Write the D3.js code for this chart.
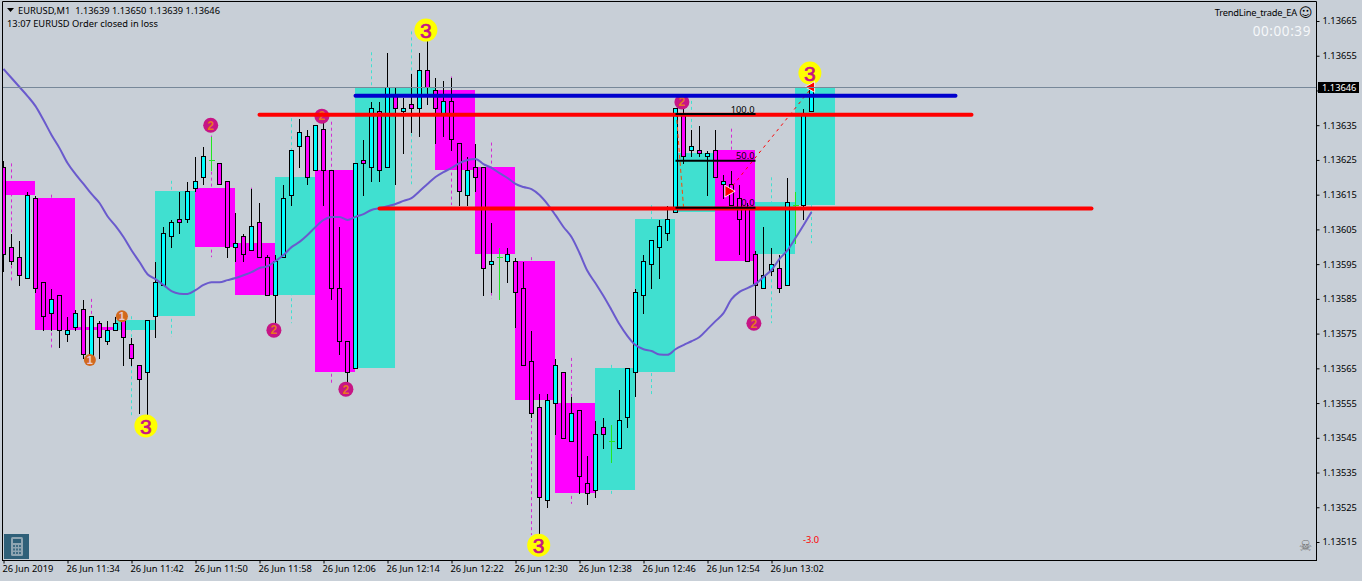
<!DOCTYPE html>
<html>
<head>
<meta charset="utf-8">
<script src="https://cdn.jsdelivr.net/npm/d3@7"></script>
<style>
html,body{margin:0;padding:0;background:#c8cfd7;overflow:hidden}
svg{display:block}
text{font-family:"Noto Sans",sans-serif;font-size:9.3px}
</style>
</head>
<body>
<svg id="chart" width="1362" height="581"></svg>
<script>
const opens=[1.13623,1.13600,1.13597,1.13591,1.13614,1.13590,1.13581,1.13586,1.13575,1.13577,
1.13582,1.13568,1.13578,1.13573,1.13576,1.13579,1.13572,1.13566,1.13564,1.13580,
1.13589,1.13603,1.13608,1.13608,1.13617,1.13620,1.13625,1.13624,1.13619,1.13600,
1.13603,1.13599,1.13607,1.13597,1.13586,1.13597,1.13615,1.13629,1.13632,1.13622,
1.13634,1.13622,1.13588,1.13573,1.13565,1.13625,1.13623,1.13639,1.13623,1.13644,
1.13639,1.13641,1.13640,1.13651,1.13645,1.13638,1.13642,1.13630,1.13615,1.13623,
1.13623,1.13595,1.13597,1.13596,1.13596,1.13588,1.13567,1.13554,1.13527,1.13555,
1.13564,1.13544,1.13553,1.13532,1.13530,1.13548,1.13544,1.13542,1.13551,1.13564,
1.13586,1.13595,1.13600,1.13604,1.13610,1.13638,1.13628,1.13628,1.13626,1.13628,
1.13618,1.13618,1.13614,1.13611,1.13598,1.13588,1.13593,1.13594,1.13589,1.13612,
1.13612,1.13639];
const highs=[1.13625,1.13604,1.13602,1.13616,1.13615,1.13590,1.13588,1.13586,1.13580,1.13582,
1.13585,1.13580,1.13579,1.13579,1.13580,1.13580,1.13574,1.13566,1.13579,1.13596,
1.13606,1.13608,1.13616,1.13619,1.13626,1.13629,1.13632,1.13624,1.13619,1.13610,
1.13604,1.13617,1.13613,1.13598,1.13598,1.13618,1.13628,1.13637,1.13634,1.13635,
1.13636,1.13622,1.13606,1.13573,1.13624,1.13631,1.13642,1.13642,1.13656,1.13646,
1.13643,1.13650,1.13656,1.13662,1.13649,1.13648,1.13649,1.13630,1.13626,1.13630,
1.13623,1.13607,1.13600,1.13600,1.13597,1.13596,1.13576,1.13558,1.13558,1.13568,
1.13564,1.13557,1.13553,1.13540,1.13550,1.13551,1.13549,1.13559,1.13565,1.13588,
1.13598,1.13602,1.13608,1.13612,1.13640,1.13642,1.13634,1.13635,1.13628,1.13634,
1.13621,1.13622,1.13618,1.13613,1.13599,1.13606,1.13600,1.13598,1.13620,1.13616,
1.13640,1.13650];
const lows=[1.13593,1.13595,1.13589,1.13591,1.13587,1.13576,1.13576,1.13571,1.13573,1.13576,
1.13568,1.13567,1.13568,1.13572,1.13576,1.13566,1.13566,1.13552,1.13551,1.13574,
1.13589,1.13600,1.13604,1.13607,1.13616,1.13618,1.13622,1.13618,1.13597,1.13596,
1.13596,1.13599,1.13597,1.13586,1.13578,1.13597,1.13612,1.13623,1.13618,1.13622,
1.13612,1.13585,1.13569,1.13560,1.13565,1.13615,1.13619,1.13619,1.13623,1.13618,
1.13627,1.13633,1.13632,1.13641,1.13630,1.13632,1.13628,1.13612,1.13612,1.13616,
1.13586,1.13587,1.13585,1.13590,1.13577,1.13566,1.13551,1.13517,1.13525,1.13546,
1.13545,1.13544,1.13529,1.13526,1.13528,1.13542,1.13538,1.13542,1.13548,1.13557,
1.13581,1.13588,1.13591,1.13602,1.13610,1.13624,1.13626,1.13626,1.13615,1.13620,
1.13614,1.13612,1.13598,1.13596,1.13578,1.13588,1.13592,1.13587,1.13589,1.13601,
1.13608,1.13639];
const closes=[1.13598,1.13596,1.13592,1.13615,1.13588,1.13580,1.13585,1.13576,1.13576,1.13581,
1.13569,1.13580,1.13574,1.13576,1.13578,1.13574,1.13568,1.13562,1.13579,1.13590,
1.13604,1.13607,1.13607,1.13616,1.13619,1.13626,1.13625,1.13618,1.13600,1.13601,
1.13598,1.13606,1.13597,1.13586,1.13596,1.13614,1.13628,1.13633,1.13620,1.13635,
1.13622,1.13588,1.13573,1.13564,1.13624,1.13624,1.13640,1.13622,1.13646,1.13640,
1.13640,1.13640,1.13651,1.13646,1.13640,1.13642,1.13631,1.13616,1.13622,1.13620,
1.13594,1.13596,1.13597,1.13598,1.13587,1.13566,1.13552,1.13528,1.13556,1.13566,
1.13545,1.13552,1.13534,1.13529,1.13546,1.13546,1.13544,1.13550,1.13565,1.13587,
1.13596,1.13602,1.13606,1.13608,1.13640,1.13626,1.13629,1.13627,1.13627,1.13620,
1.13619,1.13612,1.13608,1.13596,1.13589,1.13592,1.13595,1.13588,1.13613,1.13612,
1.13638,1.13646];
const maLine=[1.136512,1.136486,1.136460,1.136434,1.136405,1.136365,1.136322,1.136284,1.136241,1.136209,
1.136181,1.136152,1.136126,1.136088,1.136060,1.136028,1.135990,1.135956,1.135921,1.135907,
1.135890,1.135872,1.135865,1.135864,1.135875,1.135890,1.135898,1.135898,1.135904,1.135910,
1.135918,1.135927,1.135939,1.135944,1.135959,1.135976,1.135999,1.136014,1.136034,1.136057,
1.136077,1.136086,1.136086,1.136077,1.136086,1.136094,1.136106,1.136111,1.136117,1.136123,
1.136132,1.136140,1.136160,1.136181,1.136201,1.136215,1.136227,1.136241,1.136250,1.136253,
1.136238,1.136227,1.136212,1.136198,1.136181,1.136172,1.136166,1.136149,1.136123,1.136091,
1.136057,1.136028,1.135982,1.135930,1.135895,1.135858,1.135818,1.135777,1.135743,1.135717,
1.135705,1.135700,1.135690,1.135689,1.135705,1.135717,1.135728,1.135740,1.135763,1.135786,
1.135809,1.135849,1.135870,1.135881,1.135893,1.135913,1.135933,1.135965,1.135990,1.136025,
1.136062,1.136100];
const boxStart=[-1,4,9,14,19,24,29,34,39,44,49,54,59,64,69,74,79,84,89,94,99];
const boxOpen=[1.13619,1.13614,1.13577,1.13576,1.13580,1.13617,1.13601,1.13586,1.13622,1.13565,1.13644,1.13645,1.13623,1.13596,1.13555,1.13530,1.13564,1.13610,1.13628,1.13598,1.13612];
const boxHigh=[1.13624,1.13615,1.13585,1.13580,1.13619,1.13632,1.13617,1.13637,1.13636,1.13656,1.13662,1.13649,1.13630,1.13597,1.13568,1.13566,1.13612,1.13642,1.13634,1.13620,1.13650];
const boxLow=[1.13590,1.13571,1.13567,1.13551,1.13574,1.13597,1.13586,1.13578,1.13560,1.13565,1.13618,1.13612,1.13585,1.13517,1.13526,1.13528,1.13557,1.13610,1.13596,1.13578,1.13601];
const boxClose=[1.13615,1.13576,1.13576,1.13579,1.13616,1.13600,1.13586,1.13620,1.13564,1.13646,1.13646,1.13622,1.13598,1.13556,1.13529,1.13565,1.13608,1.13627,1.13596,1.13613,1.13646];
const priceTicks=[1.13665,1.13655,1.13645,1.13635,1.13625,1.13615,1.13605,1.13595,1.13585,1.13575,1.13565,1.13555,1.13545,1.13535,1.13525,1.13515];
const timeTickIdx=[0,8,16,24,32,40,48,56,64,72,80,88,96];
const timeTickLabels=["26 Jun 2019","26 Jun 11:34","26 Jun 11:42","26 Jun 11:50","26 Jun 11:58","26 Jun 12:06","26 Jun 12:14","26 Jun 12:22","26 Jun 12:30","26 Jun 12:38","26 Jun 12:46","26 Jun 12:54","26 Jun 13:02"];
const trendIdxFrom=[44,32,47], trendIdxTo=[119,121,136], trendPrice=[1.136435,1.13638,1.13611], trendColor=["#0000cd","#ff0000","#ff0000"];
const fibLabels=["100.0","50.0","0.0"], fibPrice=[1.136382,1.136248,1.136112];
const marker3Idx=[17.8,52.8,66.9,100.8], marker3Price=[1.135484,1.136624,1.135141,1.1365];
const marker2Idx=[25.9,33.8,39.8,42.8,84.8,93.8], marker2Price=[1.13635,1.13576,1.136376,1.13559,1.136417,1.13578];
const marker1Idx=[10.8,14.8], marker1Price=[1.135674,1.1358];
const bidPrice=1.13646;

const svg=d3.select("#chart");
const x=d3.scaleLinear().domain([0,101]).range([3.5,811.5]);
const y=d3.scaleLinear().domain([1.13515,1.13665]).range([542,21]);
const snap=v=>Math.round(y(v))+0.5;

svg.append("defs").append("clipPath").attr("id","plot").append("rect").attr("x",3).attr("y",2).attr("width",1313).attr("height",558);
const plot=svg.append("g").attr("clip-path","url(#plot)");

// M5 overlay boxes
const boxes=boxStart.map((s,k)=>({s,o:boxOpen[k],h:boxHigh[k],l:boxLow[k],c:boxClose[k]}));
const boxCol=d=>d.c>=d.o?"#40e0d0":"#ff00ff";
plot.append("g").selectAll("line").data(boxes).join("line")
  .attr("x1",d=>x(d.s+2)).attr("x2",d=>x(d.s+2)).attr("y1",d=>y(d.h)).attr("y2",d=>y(d.l))
  .attr("stroke",d=>d.c>=d.o?"#40e0d0":"#d42ad4").attr("stroke-dasharray","3 3");
plot.append("g").selectAll("rect").data(boxes).join("rect")
  .attr("x",d=>x(d.s)-0.5).attr("width",d=>x(d.s+5)-x(d.s))
  .attr("y",d=>Math.round(y(Math.max(d.o,d.c))))
  .attr("height",d=>Math.max(1,Math.round(y(Math.min(d.o,d.c)))-Math.round(y(Math.max(d.o,d.c)))))
  .attr("fill",boxCol);

// price line
svg.append("line").attr("x1",3).attr("x2",1316).attr("y1",snap(bidPrice)).attr("y2",snap(bidPrice)).attr("stroke","#778899");

// M1 candles
const candles=opens.map((o,i)=>({i,o,h:highs[i],l:lows[i],c:closes[i]}));
const cg=plot.append("g").attr("shape-rendering","crispEdges");
const cs=cg.selectAll("g").data(candles).join("g");
cs.append("line").attr("x1",d=>x(d.i)).attr("x2",d=>x(d.i)).attr("y1",d=>snap(d.h)).attr("y2",d=>snap(d.l))
  .attr("stroke",d=>d.o===d.c?"#22e622":"#000");
cs.filter(d=>d.o===d.c).append("line").attr("x1",d=>x(d.i)-3).attr("x2",d=>x(d.i)+3).attr("y1",d=>snap(d.o)).attr("y2",d=>snap(d.o)).attr("stroke","#22e622");
cs.filter(d=>d.o!==d.c).append("rect")
  .attr("x",d=>x(d.i)-2).attr("width",4)
  .attr("y",d=>snap(Math.max(d.o,d.c)))
  .attr("height",d=>snap(Math.min(d.o,d.c))-snap(Math.max(d.o,d.c)))
  .attr("fill",d=>d.c>d.o?"#00ffff":"#ff00ff").attr("stroke","#000");

// moving average
plot.append("path").datum(maLine)
  .attr("d",d3.line().x((d,i)=>x(i)).y(d=>y(d)).curve(d3.curveMonotoneX))
  .attr("fill","none").attr("stroke","#6a5acd").attr("stroke-width",2);

// trade lines
plot.append("line").attr("x1",x(84.1)).attr("x2",x(85)).attr("y1",y(1.136385)).attr("y2",y(1.136115))
  .attr("stroke","#ff4500").attr("stroke-dasharray","4 3");
plot.append("line").attr("x1",x(90.6)).attr("x2",x(101)).attr("y1",y(1.13616)).attr("y2",y(1.136457))
  .attr("stroke","#ff0000").attr("stroke-dasharray","3 4");

// round markers
function markers(idx,price,r,fill,label,col,size,weight,sw){
  const data=idx.map((v,k)=>({v,p:price[k]}));
  const g=plot.append("g").selectAll("g").data(data).join("g").attr("transform",d=>`translate(${x(d.v)},${y(d.p)})`);
  g.append("circle").attr("r",r).attr("fill",fill);
  g.append("text").attr("text-anchor","middle").attr("dy","0.36em").attr("fill",col).attr("stroke",col).attr("stroke-width",sw)
    .style("font-size",size+"px").style("font-weight",weight).style("font-family","Liberation Sans").text(label);
}
markers(marker1Idx,marker1Price,6,"#d2691e","1","#e8c8d0",11,"bold",0);
markers(marker2Idx,marker2Price,7.5,"#c71585","2","#e8761e",12,"bold",0);
markers(marker3Idx,marker3Price,11.5,"#ffff00","3","#c71585",21,"normal",0.7);

// trend lines
plot.append("g").selectAll("line").data(trendPrice).join("line")
  .attr("x1",(d,k)=>x(trendIdxFrom[k])).attr("x2",(d,k)=>x(trendIdxTo[k]))
  .attr("y1",d=>y(d)).attr("y2",d=>y(d))
  .attr("stroke",(d,k)=>trendColor[k]).attr("stroke-width",4).attr("stroke-linecap","round");

// fibo levels
const fib=plot.append("g").selectAll("g").data(fibPrice).join("g");
fib.append("line").attr("x1",x(84)).attr("x2",x(94)).attr("y1",d=>y(d)).attr("y2",d=>y(d)).attr("stroke","#000").attr("stroke-width",2);
fib.append("text").attr("x",x(94)-1).attr("y",d=>y(d)-1.5).attr("text-anchor","end").attr("fill","#000").text((d,k)=>fibLabels[k]);

// trade arrows
plot.append("path").attr("d",d3.symbol(d3.symbolTriangle,60)()).attr("transform",`translate(${x(90.6)},${y(1.13616)}) rotate(90)`).attr("fill","#ff0000").attr("stroke","#fff").attr("stroke-width",0.9);
plot.append("path").attr("d",d3.symbol(d3.symbolTriangle,50)()).attr("transform",`translate(${x(101)},${y(1.13646)}) rotate(-90)`).attr("fill","#ff0000").attr("stroke","#fff").attr("stroke-width",0.9);

// axes
const ax=d3.axisRight(y).tickValues(priceTicks).tickFormat(d=>d===1.13645?"":d3.format(".5f")(d)).tickSize(3).tickPadding(3);
const ga=svg.append("g").attr("transform","translate(1316.5,0)").call(ax);
const bx=d3.axisBottom(x).tickValues(timeTickIdx).tickFormat((d,k)=>timeTickLabels[k]).tickSize(3).tickPadding(2);
const gb=svg.append("g").attr("transform","translate(0,560.5)").call(bx);
[ga,gb].forEach(g=>{g.select(".domain").remove();g.selectAll("text").attr("fill","#000").style("font-size","9.3px").style("font-family",'"Noto Sans"');g.selectAll("line").attr("stroke","#000")});
gb.selectAll("text").attr("text-anchor","start").attr("dx","-1.5px");
svg.append("path").attr("d","M2.5,561V1.5H1316.5V561M2,560.5H1317").attr("fill","none").attr("stroke","#000");

// bid label
svg.append("rect").attr("x",1318).attr("y",82).attr("width",41).attr("height",11).attr("fill","#000");
svg.append("text").attr("x",1322).attr("y",91).attr("fill","#fff").text(d3.format(".5f")(bidPrice));

// header texts
svg.append("path").attr("d","M7,8H14L10.5,12Z").attr("fill","#000");
svg.append("text").attr("x",18).attr("y",14).attr("fill","#000").style("white-space","pre").text("EURUSD,M1  1.13639 1.13650 1.13639 1.13646");
svg.append("text").attr("x",7).attr("y",27).attr("fill","#000").text("13:07 EURUSD Order closed in loss");
svg.append("text").attr("x",1297).attr("y",15.5).attr("text-anchor","end").attr("fill","#000").style("letter-spacing","-0.2px").text("TrendLine_trade_EA");
svg.append("text").attr("x",1305.5).attr("y",17).attr("text-anchor","middle").attr("fill","#000").style("font-family","DejaVu Sans").style("font-size","13px").text("\u263A");
svg.append("text").attr("x",1311).attr("y",36).attr("text-anchor","end").attr("fill","#f6f8fa").style("font-size","13.5px").style("letter-spacing","0.6px").text("00:00:39");
svg.append("text").attr("x",811).attr("y",543).attr("text-anchor","middle").attr("fill","#ff0000").text("-3.0");
svg.append("text").attr("x",1305.5).attr("y",551).attr("text-anchor","middle").attr("fill","#707070").style("font-family","DejaVu Sans").style("font-size","15px").text("\u2620");

// calculator icon
const ic=svg.append("g").attr("transform","translate(4,534)");
ic.append("rect").attr("width",25).attr("height",25).attr("fill","#2f6079");
ic.append("rect").attr("x",7).attr("y",3).attr("width",12).attr("height",19).attr("rx",1.5).attr("fill","#8fa5b2");
ic.append("rect").attr("x",9).attr("y",5).attr("width",8).attr("height",4).attr("fill","#2f6079");
[0,1,2].forEach(r=>[0,1,2].forEach(c=>ic.append("rect").attr("x",9+c*3).attr("y",11+r*3.5).attr("width",2).attr("height",2).attr("fill","#3f6c84")));
</script>
</body>
</html>
